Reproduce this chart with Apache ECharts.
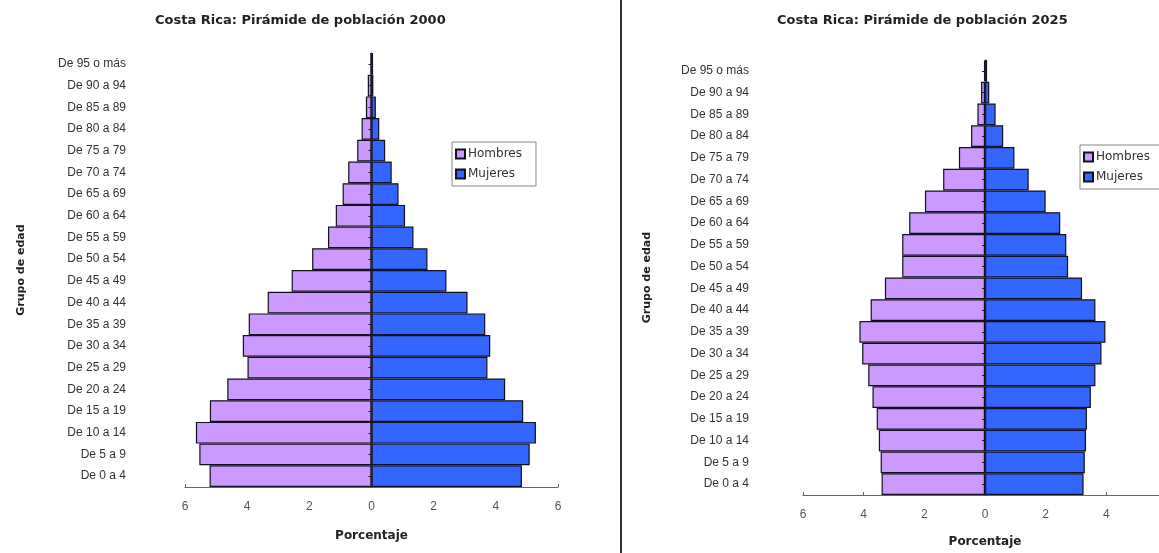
<!DOCTYPE html>
<html>
<head>
<meta charset="utf-8">
<script src="https://cdn.jsdelivr.net/npm/echarts@6/dist/echarts.min.js"></script>
<style>
  html, body { margin: 0; padding: 0; background: #fff; }
  #wrap { width: 1159px; height: 553px; position: relative; overflow: hidden; }
  #left { position: absolute; left: 0; top: 0; width: 620px; height: 553px; }
  #divider { position: absolute; left: 620px; top: 0; width: 2px; height: 553px; background: #333; }
  #right { position: absolute; left: 622px; top: 0; width: 570px; height: 553px; }
</style>
</head>
<body>
<div id="wrap">
  <div id="left"></div>
  <div id="divider"></div>
  <div id="right"></div>
</div>
<script>
// grupos de edad, de abajo hacia arriba
const ages = ["De 0 a 4", "De 5 a 9", "De 10 a 14", "De 15 a 19", "De 20 a 24", "De 25 a 29",
  "De 30 a 34", "De 35 a 39", "De 40 a 44", "De 45 a 49", "De 50 a 54", "De 55 a 59",
  "De 60 a 64", "De 65 a 69", "De 70 a 74", "De 75 a 79", "De 80 a 84", "De 85 a 89",
  "De 90 a 94", "De 95 o más"];

const hombres2000 = [5.21, 5.54, 5.65, 5.20, 4.64, 3.99, 4.14, 3.95, 3.34, 2.57, 1.91, 1.40,
  1.15, 0.93, 0.75, 0.46, 0.32, 0.18, 0.12, 0.04];
const mujeres2000 = [4.84, 5.09, 5.29, 4.88, 4.30, 3.73, 3.82, 3.66, 3.09, 2.41, 1.80, 1.35,
  1.08, 0.87, 0.65, 0.44, 0.25, 0.14, 0.06, 0.05];

const hombres2025 = [3.41, 3.44, 3.50, 3.57, 3.71, 3.85, 4.05, 4.14, 3.77, 3.30, 2.73, 2.73,
  2.50, 1.98, 1.38, 0.86, 0.46, 0.25, 0.13, 0.03];
const mujeres2025 = [3.25, 3.29, 3.33, 3.36, 3.49, 3.64, 3.84, 3.97, 3.64, 3.20, 2.74, 2.68,
  2.48, 2.00, 1.44, 0.97, 0.60, 0.35, 0.14, 0.07];

const xTicks = [-6, 6, 2]; // min, max, interval

const FONT = "Liberation Sans, Arial, sans-serif";
const BOLD_FONT = "DejaVu Sans, Verdana, sans-serif";

function pyramidOption(cfg) {
  return {
    animation: false,
    title: {
      text: cfg.title,
      left: cfg.titleLeft,
      top: 9,
      textStyle: { fontFamily: BOLD_FONT, fontSize: 13, fontWeight: "bold", color: "#222" }
    },
    legend: {
      orient: "vertical",
      left: cfg.legendLeft,
      top: cfg.legendTop,
      itemWidth: 9,
      itemHeight: 9,
      itemGap: 8,
      padding: [6, 14, 6, 3],
      borderColor: "#888",
      borderWidth: 1,
      backgroundColor: "#fff",
      icon: "rect",
      textStyle: { fontFamily: BOLD_FONT, fontSize: 12, color: "#333", padding: [0, 0, 0, -2] },
      data: ["Hombres", "Mujeres"]
    },
    grid: {
      left: cfg.gridLeft,
      top: cfg.gridTop,
      width: cfg.gridWidth,
      height: cfg.gridHeight
    },
    xAxis: {
      type: "value",
      min: xTicks[0],
      max: xTicks[1],
      interval: xTicks[2],
      name: "Porcentaje",
      nameLocation: "middle",
      nameGap: cfg.xNameGap,
      nameTextStyle: { fontFamily: BOLD_FONT, fontSize: 12, fontWeight: "bold", color: "#222" },
      axisLine: { show: true, lineStyle: { color: "#666", width: 1 } },
      axisTick: { show: true, inside: true, length: 3, lineStyle: { color: "#666" } },
      axisLabel: {
        margin: 14,
        fontFamily: FONT,
        fontSize: 12,
        color: "#555",
        formatter: v => Math.abs(v)
      },
      splitLine: { show: false }
    },
    yAxis: [
      {
        type: "category",
        data: ages,
        position: "left",
        axisLine: { show: false, onZero: false },
        axisTick: { show: false },
        axisLabel: { margin: cfg.labelMargin, fontFamily: FONT, fontSize: 12, color: "#333" },
        name: "Grupo de edad",
        nameLocation: "middle",
        nameGap: cfg.yNameGap,
        nameRotate: 90,
        nameTextStyle: { fontFamily: BOLD_FONT, fontSize: 11, fontWeight: "bold", color: "#222" }
      },
      {
        type: "category",
        data: ages,
        position: "left",
        z: 5,
        axisLine: { show: true, onZero: true, lineStyle: { color: "#222", width: 1 } },
        axisTick: { show: true, alignWithLabel: true, length: 3, lineStyle: { color: "#222" } },
        axisLabel: { show: false }
      }
    ],
    series: [
      {
        name: "Hombres",
        type: "bar",
        stack: "pir",
        barCategoryGap: "0%",
        itemStyle: { color: "#cc99ff", borderColor: "#111122", borderWidth: 1.2 },
        data: cfg.hombres.map(v => -v)
      },
      {
        name: "Mujeres",
        type: "bar",
        stack: "pir",
        barCategoryGap: "0%",
        itemStyle: { color: "#3366ff", borderColor: "#111122", borderWidth: 1.2 },
        data: cfg.mujeres
      }
    ]
  };
}

const leftChart = echarts.init(document.getElementById("left"));
leftChart.setOption(pyramidOption({
  title: "Costa Rica: Pirámide de población 2000",
  titleLeft: 150,
  legendLeft: 452,
  legendTop: 142,
  gridLeft: 185,
  gridTop: 53,
  gridWidth: 373,
  gridHeight: 434,
  xNameGap: 43,
  labelMargin: 59,
  yNameGap: 158,
  hombres: hombres2000,
  mujeres: mujeres2000
}));

const rightChart = echarts.init(document.getElementById("right"));
rightChart.setOption(pyramidOption({
  title: "Costa Rica: Pirámide de población 2025",
  titleLeft: 150,
  legendLeft: 458,
  legendTop: 145,
  gridLeft: 181,
  gridTop: 60,
  gridWidth: 364,
  gridHeight: 438,
  xNameGap: 41,
  labelMargin: 54,
  yNameGap: 150,
  hombres: hombres2025,
  mujeres: mujeres2025
}));
</script>
</body>
</html>
